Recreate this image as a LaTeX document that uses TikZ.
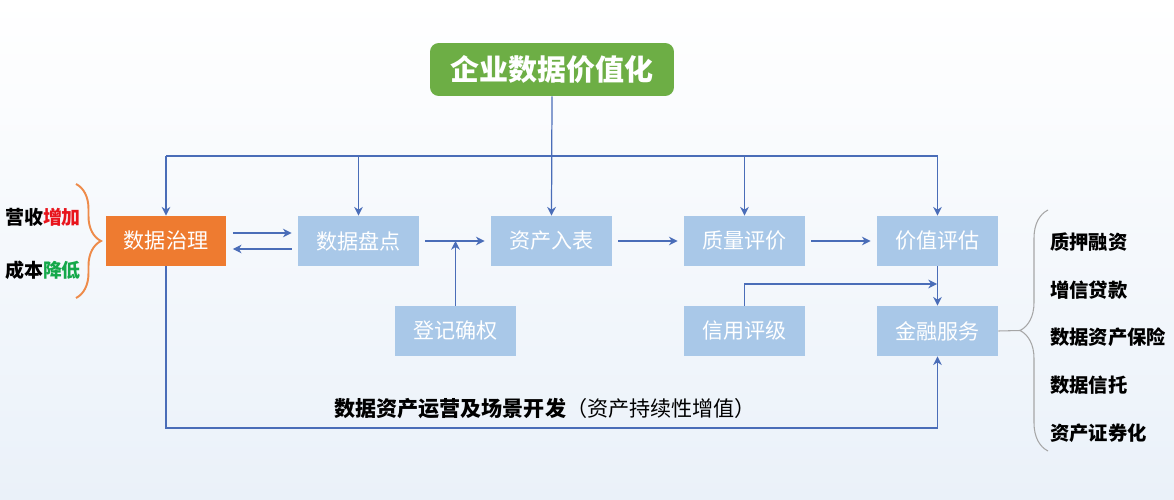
\documentclass[tikz,border=0pt]{standalone}
\usepackage{fontspec}
\setmainfont{Noto Sans CJK SC}
\usetikzlibrary{arrows.meta,positioning,calc,decorations.pathreplacing}
\definecolor{StepBlue}{HTML}{A9C8E8}
\definecolor{GovOrange}{HTML}{EE7B30}
\definecolor{TopGreen}{HTML}{6DAE45}
\definecolor{LineBlue}{HTML}{4A6DB8}
\definecolor{BraceOrange}{HTML}{EE8B4A}
\definecolor{BgBlue}{HTML}{EAF1F9}
\definecolor{UpRed}{HTML}{E8141C}
\definecolor{DownGreen}{HTML}{14A84A}

\begin{document}
\begin{tikzpicture}[x=0.02cm, y=-0.02cm,
  stepbox/.style={fill=StepBlue, text=white, minimum width=2.42cm, minimum height=1cm, inner sep=0pt, font=\fontsize{12}{14}\selectfont},
  flow/.style={draw=LineBlue, line width=0.7pt, -{Stealth[length=5pt,width=5pt]}},
  link/.style={draw=LineBlue, line width=0.7pt},
  item/.style={anchor=west, font=\fontsize{11}{13}\selectfont\bfseries}]
  % background
  \shade[top color=white, bottom color=BgBlue] (0,0) rectangle (1174,500);
  \useasboundingbox (0,0) rectangle (1174,500);
  % title
  \node[fill=TopGreen, text=white, rounded corners=5pt, minimum width=4.88cm, minimum height=1.06cm, inner sep=0pt, font=\fontsize{16.5}{18}\selectfont\bfseries] (title) at (552,69.5) {企业数据价值化};
  % first row
  \node[stepbox, fill=GovOrange] (gov) at (166,241) {数据治理};
  \node[stepbox] (inv) at (358.5,241) {数据盘点};
  \node[stepbox] (asset) at (551.5,241) {资产入表};
  \node[stepbox] (qual) at (744.5,241) {质量评价};
  \node[stepbox] (val) at (937.5,241) {价值评估};
  % second row
  \node[stepbox] (reg) at (455.5,331) {登记确权};
  \node[stepbox] (credit) at (744.5,331) {信用评级};
  \node[stepbox] (fin) at (937.5,331) {金融服务};
  % top bar
  \coordinate (bar) at (551,156);
  \draw[flow] (title.south) -- (asset.north);
  \draw[link] (gov.north |- bar) -- (val.north |- bar);
  \foreach \n in {gov,inv,qual,val}
    \draw[flow] (\n.north |- bar) -- (\n.north);
  % main chain
  \draw[flow] ($(gov.east)+(6,-8)$) -- ($(inv.west)+(-6,-8)$);
  \draw[flow] ($(inv.west)+(-6,8)$) -- ($(gov.east)+(6,8)$);
  \coordinate (join) at (reg.north |- inv.east);
  \draw[flow] ($(inv.east)+(6,0)$) -- ($(asset.west)+(-6,0)$);
  \draw[flow] (reg.north) -- (join);
  \draw[flow] ($(asset.east)+(6,0)$) -- ($(qual.west)+(-6,0)$);
  \draw[flow] ($(qual.east)+(6,0)$) -- ($(val.west)+(-6,0)$);
  \draw[flow] (val.south) -- (fin.north);
  \coordinate (cjoin) at (937,284);
  \draw[flow] (credit.north) |- (cjoin);
  % bottom loop
  \coordinate (loop) at (551,428);
  \draw[flow] (gov.south) |- (loop) -| (fin.south);
  \node[font=\fontsize{12}{14}\selectfont] (ops) at (545,409) {\textbf{数据资产运营及场景开发}（资产持续性增值）};
  % left brace
  \draw[BraceOrange, line width=1.1pt, decorate, decoration={brace, amplitude=0.5cm}] (76,184) -- (76,298);
  \node[font=\fontsize{10.8}{13}\selectfont\bfseries] (rev) at (43,217) {营收\textcolor{UpRed}{增加}};
  \node[font=\fontsize{10.8}{13}\selectfont\bfseries] (cost) at (43,270) {成本\textcolor{DownGreen}{降低}};
  % right brace
  \draw[gray!70, line width=0.6pt, decorate, decoration={brace, amplitude=0.56cm}] (1048,451) -- (1048,210);
  \coordinate (tip) at (1020,330.5);
  \draw[gray!70, line width=0.6pt] (fin.east) -- (tip);
  \node[item] (pledge) at (1044,242) {质押融资};
  \node[item] (loan) at (1044,290) {增信贷款};
  \node[item] (insure) at (1044,337) {数据资产保险};
  \node[item] (trust) at (1044,385) {数据信托};
  \node[item] (secur) at (1044,433) {资产证券化};
\end{tikzpicture}
\end{document}
